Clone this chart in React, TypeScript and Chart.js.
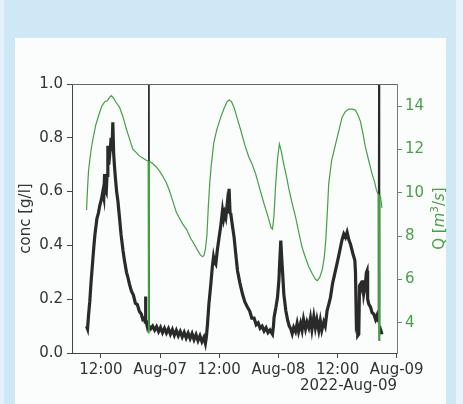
import { useEffect, useRef } from "react";
import { Chart, registerables } from "chart.js";

Chart.register(...registerables);

// hours since 2022-Aug-06 00:00
const concTimes = [
  9.1, 9.3, 9.5, 9.75, 10.0, 10.3, 10.6, 10.8, 11.0, 11.2,
  11.5, 11.8, 12.1, 12.4, 12.6, 12.75, 12.9, 13.1, 13.25, 13.42,
  13.6, 13.76, 13.9, 14.09, 14.25, 14.43, 14.6, 14.78, 15.0, 15.2,
  15.45, 15.8, 16.1, 16.5, 16.8, 17.2, 17.5, 17.8, 18.2, 18.6,
  19.0, 19.4, 19.8, 20.2, 20.5, 20.8, 21.0, 21.06, 21.12, 21.4,
  21.65, 21.73, 21.8, 22.1, 22.5, 22.9, 23.3, 23.7, 24.1, 24.5,
  24.9, 25.3, 25.7, 26.1, 26.5, 26.9, 27.3, 27.7, 28.1, 28.5,
  28.9, 29.3, 29.7, 30.1, 30.5, 30.9, 31.3, 31.7, 32.1, 32.5,
  32.9, 33.2, 33.4, 33.63, 33.9, 34.3, 34.6, 34.84, 35.0, 35.31,
  35.6, 35.98, 36.3, 36.67, 36.9, 37.1, 37.34, 37.6, 37.8, 38.0,
  38.2, 38.35, 38.7, 39.02, 39.4, 39.71, 40.2, 40.72, 41.2, 41.74,
  42.2, 42.6, 43.07, 43.5, 43.9, 44.3, 44.7, 45.1, 45.5, 45.9,
  46.3, 46.8, 47.0, 47.13, 47.5, 47.82, 48.1, 48.3, 48.49, 48.65,
  48.83, 49.1, 49.5, 49.9, 50.2, 50.5, 50.8, 51.1, 51.47, 51.8,
  52.1, 52.5, 52.8, 53.1, 53.5, 53.8, 54.16, 54.5, 54.8, 55.18,
  55.5, 55.8, 56.19, 56.5, 56.8, 57.2, 57.5, 57.87, 58.2, 58.56,
  59.0, 59.57, 60.1, 60.59, 60.9, 61.26, 61.6, 61.93, 62.3, 62.61,
  63.1, 63.5, 63.63, 63.8, 63.95, 64.1, 64.3, 64.45, 64.64, 64.9,
  65.1, 65.31, 65.6, 65.85, 65.98, 66.1, 66.33, 66.7, 67.0, 67.34,
  67.7, 68.0, 68.3, 68.41, 68.5, 68.75, 69.0,
];

const concValues = [
  0.10, 0.09, 0.14, 0.19, 0.26, 0.33, 0.40, 0.44, 0.47, 0.50,
  0.52, 0.55, 0.57, 0.60, 0.58, 0.665, 0.61, 0.60, 0.66, 0.77,
  0.70, 0.73, 0.76, 0.80, 0.75, 0.858, 0.74, 0.69, 0.64, 0.60,
  0.566, 0.50, 0.44, 0.38, 0.343, 0.30, 0.28, 0.256, 0.23, 0.215,
  0.185, 0.18, 0.155, 0.145, 0.125, 0.13, 0.115, 0.21, 0.125, 0.10,
  0.12, 1.6, 0.10, 0.09, 0.10, 0.085, 0.098, 0.08, 0.095, 0.076,
  0.092, 0.074, 0.09, 0.07, 0.087, 0.066, 0.084, 0.064, 0.08, 0.06,
  0.077, 0.056, 0.074, 0.054, 0.072, 0.05, 0.068, 0.046, 0.064, 0.042,
  0.058, 0.036, 0.06, 0.108, 0.18, 0.256, 0.32, 0.356, 0.34, 0.33,
  0.38, 0.43, 0.47, 0.53, 0.50, 0.52, 0.504, 0.55, 0.52, 0.61,
  0.52, 0.517, 0.47, 0.43, 0.36, 0.306, 0.26, 0.219, 0.19, 0.17,
  0.155, 0.13, 0.13, 0.105, 0.112, 0.092, 0.10, 0.082, 0.094, 0.076,
  0.085, 0.07, 0.10, 0.133, 0.17, 0.207, 0.27, 0.35, 0.418, 0.36,
  0.306, 0.22, 0.158, 0.12, 0.10, 0.09, 0.072, 0.095, 0.08, 0.11,
  0.08, 0.11, 0.085, 0.125, 0.09, 0.115, 0.095, 0.13, 0.088, 0.135,
  0.095, 0.125, 0.085, 0.12, 0.085, 0.115, 0.10, 0.157, 0.18, 0.207,
  0.26, 0.306, 0.35, 0.393, 0.42, 0.442, 0.43, 0.449, 0.42, 0.405,
  0.37, 0.345, 0.30, 0.12, 0.133, 0.065, 0.07, 0.25, 0.256, 0.24,
  0.27, 0.22, 0.25, 0.30, 0.306, 0.20, 0.182, 0.17, 0.15, 0.145,
  0.125, 0.14, 0.115, 1.6, 0.10, 0.085, 0.07,
];

const flowTimes = [
  9.1, 9.3, 9.5, 9.8, 10.1, 10.5, 11.0, 11.6, 12.2, 12.8,
  13.3, 13.8, 14.1, 14.5, 15.0, 15.8, 16.5, 17.1, 17.8, 18.5,
  19.2, 19.8, 20.5, 21.2, 21.65, 21.73, 21.8, 22.5, 23.2, 23.9,
  24.6, 25.3, 25.9, 26.6, 27.3, 28.0, 28.6, 29.4, 30.2, 31.0,
  31.6, 32.2, 32.6, 32.9, 33.2, 33.5, 33.8, 34.1, 34.4, 34.9,
  35.5, 36.3, 37.0, 37.6, 38.0, 38.5, 39.0, 39.7, 40.4, 41.2,
  42.0, 42.7, 43.4, 44.2, 45.1, 45.9, 46.5, 46.8, 47.1, 47.4,
  47.8, 48.2, 48.6, 49.1, 49.6, 50.1, 50.8, 51.5, 52.2, 52.8,
  53.5, 54.2, 54.9, 55.5, 55.9, 56.4, 56.9, 57.3, 57.6, 57.9,
  58.2, 58.8, 59.6, 60.3, 60.9, 61.6, 62.3, 63.0, 63.6, 64.1,
  64.6, 65.1, 65.6, 66.3, 67.0, 67.5, 67.9, 68.3, 68.41, 68.5,
  68.7, 69.0,
];

const flowValues = [
  9.2, 10.2, 11.0, 11.6, 12.1, 12.6, 13.15, 13.6, 14.0, 14.2,
  14.25, 14.4, 14.48, 14.4, 14.2, 13.94, 13.5, 13.0, 12.5, 12.0,
  11.85, 11.7, 11.6, 11.5, 11.45, 3.5, 11.45, 11.35, 11.2, 11.0,
  10.75, 10.45, 10.1, 9.6, 9.1, 8.8, 8.55, 8.3, 7.9, 7.6,
  7.35, 7.12, 7.05, 7.1, 7.4, 8.0, 9.4, 10.5, 11.3, 12.3,
  12.9, 13.48, 13.9, 14.2, 14.28, 14.2, 13.94, 13.4, 12.86, 12.2,
  11.65, 11.3, 10.86, 10.2, 9.48, 8.9, 8.4, 8.32, 8.9, 10.2,
  11.5, 12.25, 11.9, 11.3, 10.8, 10.2, 9.5, 8.86, 8.1, 7.48,
  7.0, 6.56, 6.25, 6.0, 5.94, 6.1, 6.45, 7.0, 7.8, 9.0,
  10.4, 11.5, 12.25, 12.9, 13.48, 13.75, 13.86, 13.86, 13.82, 13.6,
  13.32, 12.8, 12.15, 11.5, 10.86, 10.5, 10.1, 9.9, 3.2, 9.9,
  9.8, 9.3,
];

const xTickValues = [12, 24, 36, 48, 60, 72];
const xTickLabels = ["12:00", "Aug-07", "12:00", "Aug-08", "12:00", "Aug-09"];
const leftTickValues = [0, 0.2, 0.4, 0.6, 0.8, 1.0];
const rightTickValues = [4, 6, 8, 10, 12, 14];
const xAxisLabel = "2022-Aug-09";
const leftAxisLabel = "conc [g/l]";

const FONT = "DejaVu Sans";
const TEXT = "#333333";
const GREEN = "#4a9e4a";
const LINE_GREEN = "#45a045";

const frameAndTitle = {
  id: "frameAndTitle",
  afterDraw(chart: any) {
    const { ctx, chartArea } = chart;
    ctx.save();
    ctx.strokeStyle = "#666666";
    ctx.lineWidth = 1;
    ctx.beginPath();
    ctx.moveTo(chartArea.left, Math.round(chartArea.top) + 0.5);
    ctx.lineTo(chartArea.right, Math.round(chartArea.top) + 0.5);
    ctx.stroke();
    ctx.restore();

    // right axis label: Q [m^3/s], rotated, reading bottom-to-top
    ctx.save();
    const cy = (chartArea.top + chartArea.bottom) / 2;
    ctx.translate(444, cy);
    ctx.rotate(-Math.PI / 2);
    ctx.fillStyle = GREEN;
    ctx.textBaseline = "alphabetic";
    ctx.textAlign = "left";
    const parts: { t: string; f: string; dy: number }[] = [
      { t: "Q [", f: `15px "${FONT}"`, dy: 0 },
      { t: "m", f: `italic 15px "${FONT}"`, dy: 0 },
      { t: "3", f: `10.5px "${FONT}"`, dy: -6 },
      { t: "/", f: `15px "${FONT}"`, dy: 0 },
      { t: "s", f: `italic 15px "${FONT}"`, dy: 0 },
      { t: "]", f: `15px "${FONT}"`, dy: 0 },
    ];
    let total = 0;
    const widths = parts.map((p) => {
      ctx.font = p.f;
      const w = ctx.measureText(p.t).width;
      total += w;
      return w;
    });
    let x = -total / 2;
    parts.forEach((p, i) => {
      ctx.font = p.f;
      ctx.fillText(p.t, x, p.dy);
      x += widths[i];
    });
    ctx.restore();
  },
};

export default function App() {
  const ref = useRef<HTMLCanvasElement | null>(null);

  useEffect(() => {
    if (!ref.current) return;
    const font = { family: FONT, size: 15 };
    const chart = new Chart(ref.current, {
      type: "line",
      data: {
        datasets: [
          {
            data: concTimes.map((t, i) => ({ x: t, y: concValues[i] })),
            yAxisID: "y",
            borderColor: "#2a2a2a",
            borderWidth: 3.2,
            pointRadius: 0,
            tension: 0,
            clip: 0,
            order: 2,
            segment: {
              borderWidth: (c: any) =>
                c.p0.parsed.y > 1 || c.p1.parsed.y > 1 ? 1.6 : 3.2,
            },
          } as any,
          {
            data: flowTimes.map((t, i) => ({ x: t, y: flowValues[i] })),
            yAxisID: "y1",
            borderColor: LINE_GREEN,
            borderWidth: 1.2,
            pointRadius: 0,
            tension: 0,
            clip: 0,
            order: 1,
            segment: {
              borderWidth: (c: any) =>
                c.p0.parsed.y < 4 || c.p1.parsed.y < 4 ? 1.8 : 1.2,
            },
          } as any,
        ],
      },
      options: {
        animation: false,
        responsive: false,
        maintainAspectRatio: false,
        layout: { padding: { top: 84, left: 0, right: 0, bottom: 0 } },
        plugins: { legend: { display: false }, tooltip: { enabled: false } },
        scales: {
          x: {
            type: "linear",
            min: 6.15,
            max: 72.05,
            afterBuildTicks: (s: any) => {
              s.ticks = xTickValues.map((v) => ({ value: v }));
            },
            afterFit: (s: any) => {
              s.height = 51;
            },
            ticks: {
              autoSkip: false,
              maxRotation: 0,
              minRotation: 0,
              padding: 3,
              font,
              color: TEXT,
              callback: (v: any) => {
                const i = xTickValues.indexOf(Number(v));
                return i >= 0 ? xTickLabels[i] : "";
              },
            },
            grid: { drawOnChartArea: false, drawTicks: true, tickLength: 5, color: "#444444" },
            border: { display: true, color: "#444444", width: 1 },
            title: {
              display: true,
              text: xAxisLabel,
              align: "end",
              font: { ...font, lineHeight: 1.2 },
              color: TEXT,
              padding: { top: 0, bottom: 9 },
            },
          },
          y: {
            position: "left",
            min: 0,
            max: 1,
            afterBuildTicks: (s: any) => {
              s.ticks = leftTickValues.map((v) => ({ value: v }));
            },
            afterFit: (s: any) => {
              s.width = 72;
            },
            ticks: {
              padding: 4,
              font,
              color: TEXT,
              callback: (v: any) => Number(v).toFixed(1),
            },
            grid: { drawOnChartArea: false, drawTicks: true, tickLength: 5, color: "#444444" },
            border: { display: true, color: "#444444", width: 1 },
            title: {
              display: true,
              text: leftAxisLabel,
              font: { ...font, lineHeight: 1.2 },
              color: TEXT,
              padding: { top: 17, bottom: 0 },
            },
          },
          y1: {
            position: "right",
            min: 2.6,
            max: 15.02,
            afterBuildTicks: (s: any) => {
              s.ticks = rightTickValues.map((v) => ({ value: v }));
            },
            afterFit: (s: any) => {
              s.width = 66;
            },
            ticks: {
              padding: 3,
              font,
              color: GREEN,
              callback: (v: any) => String(v),
            },
            grid: { drawOnChartArea: false, drawTicks: true, tickLength: 5, color: GREEN },
            border: { display: true, color: "#777777", width: 1 },
          },
        },
      } as any,
      plugins: [frameAndTitle],
    });
    return () => chart.destroy();
  }, []);

  return (
    <div
      style={{
        position: "absolute",
        left: 0,
        top: 0,
        width: 463,
        height: 404,
        background: "#cee8f6",
        overflow: "hidden",
      }}
    >
      <div style={{ position: "absolute", left: 0, top: 0, width: 4, height: 404, background: "#e2f0f9" }} />
      <div style={{ position: "absolute", left: 456, top: 0, width: 7, height: 404, background: "#e8f3fa" }} />
      <div style={{ position: "absolute", left: 15, top: 38, width: 431, height: 366, background: "#fbfcfc" }} />
      <canvas
        ref={ref}
        width={463}
        height={404}
        style={{ position: "absolute", left: 0, top: 0, width: 463, height: 404 }}
      />
    </div>
  );
}
